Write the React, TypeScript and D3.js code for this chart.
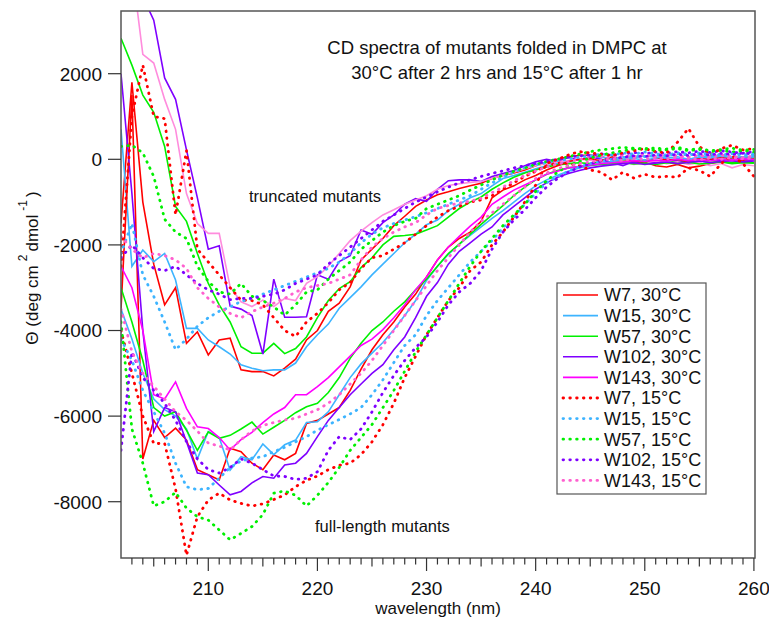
import React from "react";
import * as d3 from "d3";

const wavelengths = [
  202, 203, 204, 205, 206, 207, 208, 209, 210, 211,
  212, 213, 214, 215, 216, 217, 218, 219, 220, 221,
  222, 223, 224, 225, 226, 227, 228, 229, 230, 231,
  232, 233, 234, 235, 236, 237, 238, 239, 240, 241,
  242, 243, 244, 245, 246, 247, 248, 249, 250, 251,
  252, 253, 254, 255, 256, 257, 258, 259, 260,
];

// truncated mutants
const W7_30_T = [
  -1500, 1800, -1000, -2450, -3400, -3000, -4300, -4030, -4570, -4220,
  -4180, -4920, -4960, -4960, -5060, -4880, -4670, -4220, -4000, -3550,
  -3360, -2980, -2350, -2100, -1850, -1550, -1330, -1100, -950, -830,
  -760, -680, -620, -560, -450, -380, -320, -250, -150, -80,
  0, 60, 90, 100, 60, 0, -50, -100, -60, -150,
  -180, -120, -200, -160, -100, -50, -80, -20, 0,
];
const W15_30_T = [
  700, -2500, -2120, -2390, -2200, -2820, -3950, -3950, -4220, -4380,
  -4550, -4800, -4880, -4940, -4920, -4920, -4760, -4380, -4100, -3850,
  -3480, -3230, -2980, -2700, -2450, -2200, -1950, -1750, -1530, -1420,
  -1200, -1050, -900, -800, -620, -450, -380, -300, -220, -150,
  -100, -60, 0, 30, 50, 20, 60, 40, 80, 50,
  20, 60, 0, 40, 80, 30, 50, 0, 40,
];
const W57_30_T = [
  2830, 2200, 1500, 1100, 300, -1100, -1450, -2200, -2900, -3400,
  -3800, -4380, -4530, -4530, -4300, -4540, -4420, -4150, -3700, -3300,
  -3020, -2860, -2530, -2300, -2000, -1800, -1780, -1750, -1650, -1550,
  -1350, -1150, -1000, -880, -700, -550, -420, -320, -250, -180,
  -130, -100, -80, -100, -60, -80, -40, -60, -20, -50,
  -80, -40, -60, -30, -70, -50, -90, -60, -80,
];
const W102_30_T = [
  4500, 4200, 3800, 3250, 1900, 1400, 220, -900, -2100, -2020,
  -3430, -3500, -3650, -4550, -2800, -3690, -3690, -3680, -2700, -2800,
  -2390, -2250, -1650, -1750, -1480, -1300, -1050, -920, -980, -700,
  -500, -480, -480, -520, -400, -330, -260, -150, -60, 0,
  -50, 40, -20, 60, 0, -80, -150, -50, -100, -60,
  0, -40, -100, -60, 0, -30, 20, 0, -30,
];
const W143_30_T = [
  4500, 4500, 2450, 2250, 1400, 700, -800, -1500, -1730, -1730,
  -2980, -3330, -3440, -3290, -3440, -3250, -3300, -2900, -2740, -2500,
  -2200, -1900, -1680, -1480, -1300, -1180, -1050, -950, -850, -700,
  -610, -570, -540, -520, -450, -380, -300, -220, -150, -100,
  -60, -30, 0, -20, -60, -100, -50, -120, -80, -40,
  -100, -60, -120, -80, -150, -100, -200, -120, -150,
];
const W7_15_T = [
  -2500, 1000, 2200, 1000, 950, -1300, 200, -2100, -2400, -2700,
  -3000, -3290, -3300, -3400, -3700, -4000, -4140, -3800, -3600, -3350,
  -3050, -2880, -2550, -2300, -2250, -2100, -1950, -1750, -1550, -1350,
  -1200, -1100, -1000, -950, -850, -700, -550, -400, -280, -150,
  -80, -100, -150, -250, -300, -480, -300, -440, -350, -420,
  -400, -420, -200, -260, -400, -100, 80, -100, -400,
];
const W15_15_T = [
  -2200, -1500, -2700, -3200, -3800, -4450, -4200, -3900, -3700, -3550,
  -3450, -3320, -3250, -3150, -3050, -2950, -2850, -2750, -2650, -2550,
  -2400, -2200, -1950, -1750, -1600, -1500, -1420, -1340, -1250, -1150,
  -1050, -950, -850, -700, -550, -420, -300, -200, -130, -80,
  -30, 0, 50, 80, 120, 100, 150, 120, 170, 130,
  100, 150, 120, 90, 130, 100, 140, 110, 80,
];
const W57_15_T = [
  300, 330, 150, -400, -1400, -1700, -1850, -2500, -2850, -3100,
  -3150, -2900, -3200, -3300, -3450, -3640, -3400, -3100, -3050, -2800,
  -2600, -2400, -2100, -1900, -1700, -1550, -1450, -1380, -1150, -1050,
  -950, -850, -720, -600, -480, -370, -280, -200, -120, -50,
  0, 60, 120, 180, 220, 250, 280, 260, 230, 270,
  220, 250, 200, 230, 180, 210, 170, 200, 160,
];
const W102_15_T = [
  -2300, -2000, -2300, -2550, -2600, -2500, -2700, -2900, -3050, -3150,
  -3280, -3250, -3250, -3200, -3150, -3050, -2900, -2800, -2700, -2450,
  -2250, -2050, -1850, -1650, -1450, -1300, -1150, -1000, -880, -760,
  -650, -550, -480, -400, -330, -270, -200, -150, -100, -50,
  0, 50, 80, 100, 130, 90, 120, 160, 130, 170,
  140, 180, 150, 190, 160, 200, 170, 140, 180,
];
const W143_15_T = [
  -1800, -2100, -2300, -2200, -2250, -2350, -2550, -3000, -3250, -3450,
  -3600, -3700, -3560, -3450, -3360, -3250, -3100, -3000, -2950, -2900,
  -2800, -2700, -2350, -2050, -1850, -1700, -1580, -1480, -1300, -1150,
  -1080, -1020, -980, -910, -780, -650, -500, -380, -270, -180,
  -110, -60, 0, 40, 70, 40, 90, 60, 100, 70,
  110, 80, 50, 90, 60, 100, 70, 40, 80,
];

// full-length mutants
const W7_30_F = [
  -3500, 1500, -7000, -6100, -6500, -6280, -6560, -7250, -7370, -7490,
  -6750, -6830, -7100, -7250, -6910, -7020, -6870, -6170, -6100, -5950,
  -5800, -5400, -4900, -4450, -4100, -3800, -3450, -3150, -2750, -2350,
  -2050, -1850, -1700, -1450, -900, -720, -620, -480, -380, -250,
  -150, -50, 0, 20, -40, 60, 0, -30, -80, 40,
  -20, 0, -60, 30, 0, 50, 20, 60, 30,
];
const W15_30_F = [
  -3500, -4200, -5000, -5600, -5850, -6000, -6300, -7000, -6360, -6500,
  -7260, -6950, -7020, -6650, -6900, -6670, -6560, -6150, -6130, -5900,
  -5500, -5100, -4780, -4530, -4280, -3980, -3650, -3300, -2830, -2500,
  -2220, -1980, -1780, -1580, -1380, -1200, -1000, -800, -620, -480,
  -370, -280, -200, -150, -100, -50, 0, 20, -20, 30,
  60, 20, 0, 50, 30, 70, 40, 60, 50,
];
const W57_30_F = [
  -3000, -3800, -4700, -5800, -6000, -5900, -6330, -6800, -6370, -6520,
  -6450, -6300, -6140, -6420, -6260, -6100, -5920, -5780, -5700, -5450,
  -5100, -4650, -4300, -4000, -3800, -3550, -3330, -3050, -2800, -2500,
  -2200, -1980, -1750, -1520, -1300, -1080, -850, -650, -480, -350,
  -260, -200, -170, -140, -120, -100, -80, -110, -90, -120,
  -80, -100, -70, -110, -90, -60, -100, -80, -90,
];
const W102_30_F = [
  2000, -800, -4000, -6360, -5800, -5900, -6600, -7330, -7370, -7610,
  -7840, -7760, -7560, -7410, -7450, -7140, -7100, -6870, -6480, -6100,
  -5800, -5500, -5250, -5000, -4800, -4450, -4150, -3700, -3200, -2880,
  -2450, -2150, -1950, -1750, -1580, -1300, -1100, -900, -700, -550,
  -420, -330, -260, -200, -160, -130, -100, -80, -120, -90,
  -60, -100, -70, -40, -80, -50, -30, -60, -40,
];
const W143_30_F = [
  -2500, -3000, -4000, -5500, -5600, -5200, -5820, -6250, -6290, -6500,
  -6790, -6550, -6380, -6150, -5950, -5800, -5500, -5500, -5310, -5100,
  -4850, -4600, -4350, -4200, -3980, -3700, -3400, -3050, -2750, -2350,
  -2050, -1800, -1560, -1350, -1050, -880, -720, -600, -480, -350,
  -280, -200, -170, -130, -100, -80, -60, -30, -50, -20,
  -40, 0, -30, -10, -40, 0, -20, 10, -10,
];
const W7_15_F = [
  -4000, -5000, -6000, -6640, -6640, -7700, -9250, -8350, -7960, -7800,
  -7960, -8040, -8100, -8050, -7950, -7840, -7650, -7500, -7400, -7250,
  -7150, -7100, -6900, -6600, -6200, -5700, -5100, -4600, -4100, -3700,
  -3300, -3000, -2600, -2400, -2000, -1700, -1350, -1000, -600, -100,
  0, 100, 180, 150, 120, 90, 150, 200, 250, 180,
  150, 400, 720, 300, 100, 250, 330, 220, 250,
];
const W15_15_F = [
  -4200, -4700, -5400, -5900, -6400, -7100, -7650, -7720, -7690, -7450,
  -7200, -7050, -6980, -6950, -6830, -6730, -6600, -6480, -6330, -6200,
  -6080, -5950, -5800, -5500, -5150, -4750, -4350, -4100, -3650, -3300,
  -3000, -2700, -2400, -2150, -1900, -1600, -1350, -1050, -800, -550,
  -400, -280, -180, -100, -50, 0, 40, 80, 60, 100,
  80, 130, 100, 150, 120, 90, 130, 100, 120,
];
const W57_15_F = [
  -3800, -6300, -7100, -8100, -8000, -7780, -8150, -8350, -8430, -8660,
  -8890, -8740, -8580, -8300, -7800, -7750, -7850, -8100, -7850, -7550,
  -7200, -6800, -6500, -6200, -5800, -5400, -4950, -4500, -4100, -3700,
  -3300, -2900, -2500, -2150, -1850, -1550, -1300, -1050, -750, -500,
  -300, -150, -50, 30, 100, 150, 200, 240, 260, 200,
  240, 280, 220, 250, 200, 230, 260, 210, 230,
];
const W102_15_F = [
  -6800, -4500, -5100, -5400, -5700, -6100, -6600, -7000, -7250, -7330,
  -7200, -7000, -7100, -7250, -7400, -7410, -7480, -7450, -7300, -6800,
  -6480, -6550, -6300, -5900, -5450, -5050, -4700, -4400, -4150, -3800,
  -3400, -3100, -2900, -2600, -2100, -1700, -1420, -1180, -900, -650,
  -450, -300, -180, -100, -40, 0, 50, 80, 60, 100,
  80, 120, 90, 130, 100, 140, 110, 150, 120,
];
const W143_15_F = [
  -3500, -4500, -5000, -5300, -5600, -5900, -6100, -6350, -6630, -6700,
  -6790, -6550, -6350, -6220, -6150, -6090, -6050, -5950, -5850, -5700,
  -5500, -5250, -5000, -4700, -4350, -4000, -3650, -3300, -2950, -2600,
  -2300, -2000, -1700, -1450, -1250, -1050, -850, -650, -450, -320,
  -220, -150, -100, -60, -20, 10, -30, 20, 0, 40,
  10, 50, 20, -10, 30, 0, 40, 10, 30,
];

const legendLabels = [
  "W7, 30°C", "W15, 30°C", "W57, 30°C", "W102, 30°C", "W143, 30°C",
  "W7, 15°C", "W15, 15°C", "W57, 15°C", "W102, 15°C", "W143, 15°C",
];
const legendColors = [
  "#FF0000", "#3DB4FF", "#00F000", "#7F00FF", "#FF00FF",
  "#FF0000", "#3DB4FF", "#00F000", "#7F00FF", "#FF5FCF",
];
const legendDotted = [false, false, false, false, false, true, true, true, true, true];

const yTicks = [2000, 0, -2000, -4000, -6000, -8000];
const xLabelTicks = [210, 220, 230, 240, 250, 260];

const series = [
  { values: W7_30_T, color: "#FF0000", dotted: false },
  { values: W15_30_T, color: "#3DB4FF", dotted: false },
  { values: W57_30_T, color: "#00F000", dotted: false },
  { values: W102_30_T, color: "#7F00FF", dotted: false },
  { values: W143_30_T, color: "#FF8CDD", dotted: false },
  { values: W7_30_F, color: "#FF0000", dotted: false },
  { values: W15_30_F, color: "#3DB4FF", dotted: false },
  { values: W57_30_F, color: "#00F000", dotted: false },
  { values: W102_30_F, color: "#7F00FF", dotted: false },
  { values: W143_30_F, color: "#FF00FF", dotted: false },
  { values: W7_15_T, color: "#FF0000", dotted: true },
  { values: W15_15_T, color: "#3DB4FF", dotted: true },
  { values: W57_15_T, color: "#00F000", dotted: true },
  { values: W102_15_T, color: "#7F00FF", dotted: true },
  { values: W143_15_T, color: "#FF5FCF", dotted: true },
  { values: W7_15_F, color: "#FF0000", dotted: true },
  { values: W15_15_F, color: "#3DB4FF", dotted: true },
  { values: W57_15_F, color: "#00F000", dotted: true },
  { values: W102_15_F, color: "#7F00FF", dotted: true },
  { values: W143_15_F, color: "#FF5FCF", dotted: true },
];

const W = 769;
const H = 629;
const L = 121, R = 755, T = 11, B = 558;
const FONT = "'Liberation Sans', Arial, Helvetica, sans-serif";

export default function App() {
  const x = d3.scaleLinear().domain([202, 260.1]).range([L, R]);
  const y = d3.scaleLinear().domain([-9315, 3465]).range([B, T]);
  const line = d3
    .line<number>()
    .x((_, i) => x(wavelengths[i]))
    .y((d) => y(d));

  const minorTicks = d3.range(203, 261);

  const lx0 = 563, lx1 = 598, ly0 = 295, ldy = 20.6;

  return (
    <svg
      width={W}
      height={H}
      style={{ position: "absolute", left: 0, top: 0, background: "#fff" }}
      fontFamily={FONT}
    >
      <rect x={0} y={0} width={W} height={H} fill="#fff" />
      <defs>
        <clipPath id="plotclip">
          <rect x={L} y={T} width={R - L} height={B - T} />
        </clipPath>
      </defs>

      <g clipPath="url(#plotclip)">
        {series.map((s, i) => (
          <path
            key={i}
            d={line(s.values) || ""}
            fill="none"
            stroke={s.color}
            strokeWidth={s.dotted ? 2.8 : 1.6}
            strokeDasharray={s.dotted ? "0.6 6.2" : undefined}
            strokeLinecap={s.dotted ? "round" : "butt"}
            strokeLinejoin="miter"
          />
        ))}
      </g>

      {/* frame */}
      <rect x={L} y={T} width={R - L} height={B - T} fill="none" stroke="#555" strokeWidth={1.5} />

      {/* y ticks */}
      {yTicks.map((t) => (
        <g key={t}>
          <line x1={L - 13} x2={L} y1={y(t)} y2={y(t)} stroke="#333" strokeWidth={1.2} />
          <text x={102} y={y(t)} dy="0.36em" textAnchor="end" fontSize={19} fill="#111">
            {t}
          </text>
        </g>
      ))}

      {/* x ticks */}
      {minorTicks.map((t) => {
        const len = t % 10 === 0 ? 13 : t % 5 === 0 ? 8.5 : 6.5;
        return (
          <line key={t} x1={x(t)} x2={x(t)} y1={B} y2={B + len} stroke="#333" strokeWidth={1.2} />
        );
      })}
      {xLabelTicks.map((t) => (
        <text key={t} x={x(t)} y={595} textAnchor="middle" fontSize={19} fill="#111">
          {t}
        </text>
      ))}

      <text x={438} y={614} textAnchor="middle" fontSize={17} fill="#111">
        wavelength (nm)
      </text>

      <text
        transform="translate(38,268) rotate(-90)"
        textAnchor="middle"
        fontSize={17}
        fill="#111"
      >
        Θ (deg cm
        <tspan dx={4} dy={-11} fontSize={12}>2</tspan>
        <tspan dx={3} dy={11}>dmol</tspan>
        <tspan dx={4} dy={-11} fontSize={12}>-1</tspan>
        <tspan dx={3} dy={11}>)</tspan>
      </text>

      {/* title */}
      <text x={497} y={54} textAnchor="middle" fontSize={18.5} fill="#111">
        CD spectra of mutants folded in DMPC at
      </text>
      <text x={497} y={79} textAnchor="middle" fontSize={18.5} fill="#111">
        30°C after 2 hrs and 15°C after 1 hr
      </text>

      <text x={249} y={202} fontSize={16.5} fill="#111">
        truncated mutants
      </text>
      <text x={315} y={532} fontSize={16.5} fill="#111">
        full-length mutants
      </text>

      {/* legend */}
      <rect x={557} y={283} width={149} height={211} fill="#fff" stroke="#555" strokeWidth={1.2} />
      {legendLabels.map((lab, i) => {
        const yy = ly0 + i * ldy;
        const dotted = legendDotted[i];
        return (
          <g key={lab}>
            <line
              x1={lx0}
              x2={lx1}
              y1={yy}
              y2={yy}
              stroke={legendColors[i]}
              strokeWidth={dotted ? 2.8 : 1.6}
              strokeDasharray={dotted ? "0.6 6.2" : undefined}
              strokeLinecap={dotted ? "round" : "butt"}
            />
            <text x={604} y={yy} dy="0.36em" fontSize={18} fill="#111">
              {lab}
            </text>
          </g>
        );
      })}
    </svg>
  );
}
